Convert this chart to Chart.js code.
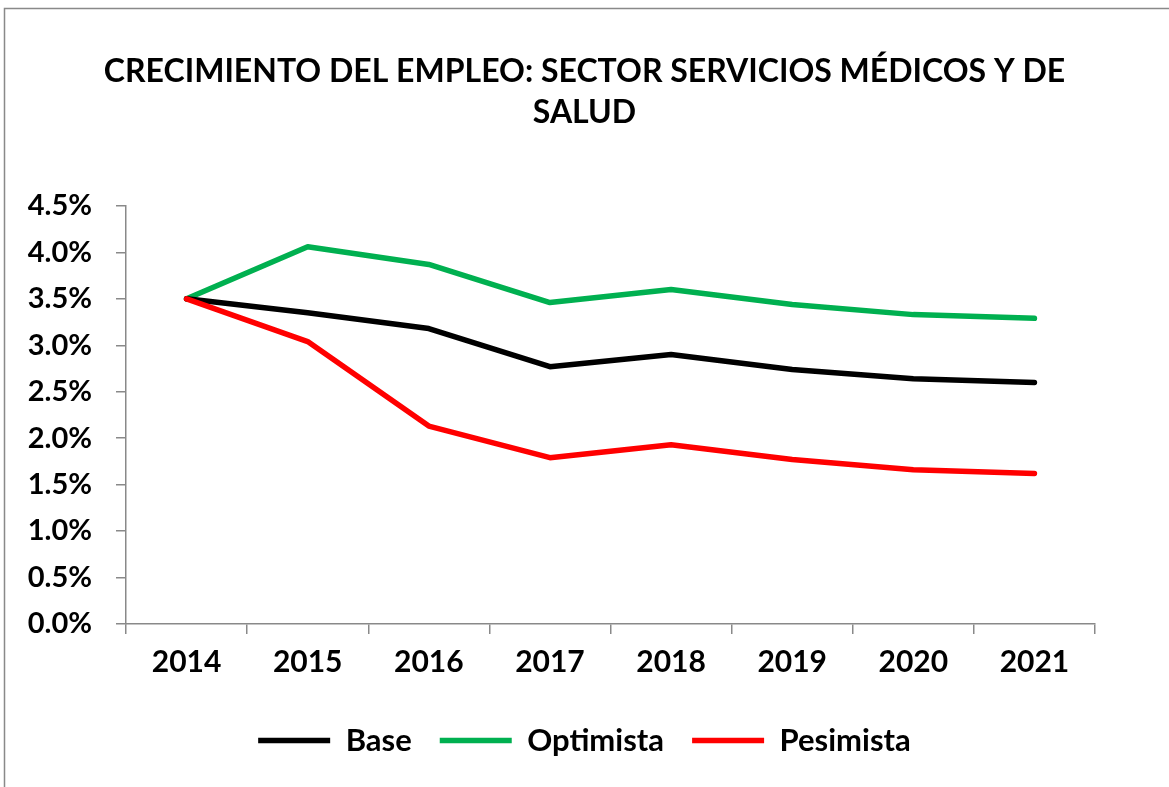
<!DOCTYPE html>
<html>
<head>
<meta charset="utf-8">
<script src="https://cdn.jsdelivr.net/npm/chart.js@4"></script>
<style>
	html, body { margin: 0; padding: 0; background: #ffffff; }
	#wrap { position: relative; width: 1169px; height: 787px; }
</style>
</head>
<body>
<div id="wrap"><canvas id="myChart" width="1169" height="787"></canvas></div>
<script>
var years = ['2014', '2015', '2016', '2017', '2018', '2019', '2020', '2021'];
var base = [3.50, 3.35, 3.18, 2.77, 2.90, 2.74, 2.64, 2.60];
var optimista = [3.50, 4.06, 3.87, 3.46, 3.60, 3.44, 3.33, 3.29];
var pesimista = [3.50, 3.04, 2.13, 1.79, 1.93, 1.77, 1.66, 1.62];
var yTicks = [0, 0.5, 1.0, 1.5, 2.0, 2.5, 3.0, 3.5, 4.0, 4.5];

var fuente = 'Lato, "Open Sans", sans-serif';
var gris = '#898989';

// marco del grafico (solo lados izquierdo y superior visibles)
var marco = {
	id: 'marco',
	beforeDraw: function(chart) {
		var ctx = chart.ctx;
		ctx.save();
		ctx.strokeStyle = gris;
		ctx.lineWidth = 1.5;
		ctx.beginPath();
		ctx.moveTo(4.5, chart.height);
		ctx.lineTo(4.5, 8.5);
		ctx.lineTo(chart.width, 8.5);
		ctx.stroke();
		ctx.restore();
	}
};

function serie(label, data, color, orden) {
	return {
		label: label,
		data: data,
		borderColor: color,
		backgroundColor: color,
		borderWidth: 5.5,
		borderCapStyle: 'round',
		borderJoinStyle: 'round',
		pointRadius: 0,
		pointHoverRadius: 0,
		tension: 0,
		order: orden
	};
}

var ctx = document.getElementById('myChart').getContext('2d');
var myChart = new Chart(ctx, {
	type: 'line',
	data: {
		labels: years,
		datasets: [
			serie('Base', base, '#000000', 1),
			serie('Optimista', optimista, '#00b050', 2),
			serie('Pesimista', pesimista, '#ff0000', 0)
		]
	},
	plugins: [marco],
	options: {
		responsive: false,
		animation: false,
		layout: { padding: { left: 0, right: 0, top: 0, bottom: 21 } },
		plugins: {
			title: {
				display: true,
				text: ['CRECIMIENTO DEL EMPLEO: SECTOR SERVICIOS MÉDICOS Y DE', 'SALUD'],
				color: '#000000',
				font: { family: fuente, size: 32, weight: 'bold', lineHeight: 1.28 },
				padding: { top: 51, bottom: 73 }
			},
			legend: {
				position: 'bottom',
				labels: {
					color: '#000000',
					font: { family: fuente, size: 31, weight: 'bold' },
					usePointStyle: true,
					pointStyle: 'line',
					pointStyleWidth: 72,
					padding: 28,
					sort: function(a, b) { return a.datasetIndex - b.datasetIndex; }
				}
			},
			tooltip: { enabled: false }
		},
		scales: {
			x: {
				offset: true,
				grid: { display: true, drawOnChartArea: false, drawTicks: true, tickLength: 10, color: gris, lineWidth: 1.5, offset: true },
				border: { display: true, color: gris, width: 1.5 },
				ticks: { color: '#000000', font: { family: fuente, size: 30, weight: 'bold' }, padding: 10, maxRotation: 0 },
				afterFit: function(scale) { scale.height = 73; }
			},
			y: {
				min: 0,
				max: 4.5,
				afterBuildTicks: function(scale) {
					scale.ticks = yTicks.map(function(v) { return { value: v }; });
				},
				grid: { display: true, drawOnChartArea: false, drawTicks: true, tickLength: 10, color: gris, lineWidth: 1.5 },
				border: { display: true, color: gris, width: 1.5 },
				ticks: {
					color: '#000000',
					font: { family: fuente, size: 29, weight: 'bold' },
					padding: 24,
					callback: function(v) { return v.toFixed(1) + '%'; }
				},
				afterFit: function(scale) { scale.width = 126; }
			},
			// eje vacio a la derecha para dejar el margen sin descentrar titulo y leyenda
			margen: {
				position: 'right',
				display: true,
				grid: { display: false },
				border: { display: false },
				ticks: { display: false },
				afterFit: function(scale) { scale.width = 74; }
			}
		}
	}
});
</script>
</body>
</html>
